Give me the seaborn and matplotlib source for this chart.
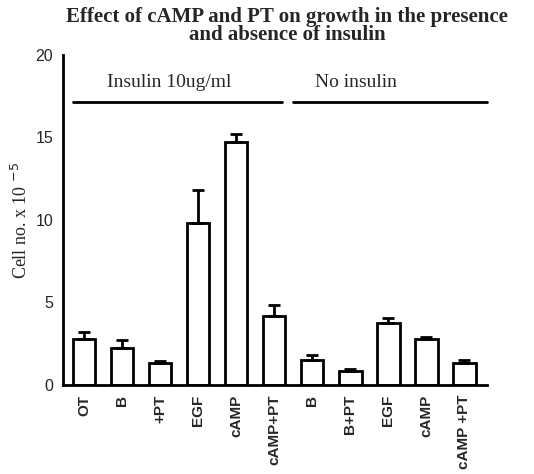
import numpy as np
import pandas as pd
import seaborn as sns
import matplotlib.pyplot as plt

# data
labels = ['OT', 'B', '+PT', 'EGF', 'cAMP', 'cAMP+PT',
          'B', 'B+PT', 'EGF', 'cAMP', 'cAMP +PT']
groups = ['ins'] * 6 + ['none'] * 5
cells = [2.8, 2.25, 1.3, 9.8, 14.7, 4.2, 1.5, 0.85, 3.75, 2.8, 1.35]
err = [0.4, 0.45, 0.15, 2.0, 0.5, 0.65, 0.3, 0.12, 0.3, 0.1, 0.15]

df = pd.DataFrame({'label': labels, 'group': groups, 'cells': cells, 'err': err})
df['key'] = [f'{g}|{i}' for i, g in enumerate(df['group'])]

sns.set_style('white')
plt.rcParams['font.family'] = ['Liberation Sans', 'DejaVu Sans']

fig = plt.figure(figsize=(5.34, 4.74), dpi=100)
ax = fig.add_axes([0.118, 0.188, 0.794, 0.696])

sns.barplot(data=df, x='key', y='cells', color='white', edgecolor='black',
            linewidth=2, width=0.6, ax=ax, errorbar=None)
pos = np.arange(len(df))
ax.errorbar(pos, df['cells'], yerr=[np.zeros(len(df)), df['err']], fmt='none',
            ecolor='black', elinewidth=2, capsize=4, capthick=2)

ax.set_xlim(-0.55, 10.6)
ax.set_ylim(0, 20)
ax.set_yticks([0, 5, 10, 15, 20])
ax.set_yticklabels(['0', '5', '10', '15', '20'], fontsize=11.5)
ax.set_xticks(pos)
ax.set_xticklabels(df['label'], rotation=90, fontsize=11, fontweight='bold')
ax.tick_params(axis='both', length=0, pad=7)
ax.set_xlabel('')
ax.set_ylabel('Cell no. x 10 $^{-5}$', family='Liberation Serif', fontsize=13, labelpad=3)

sns.despine(ax=ax)
for s in ['left', 'bottom']:
    ax.spines[s].set_linewidth(2)
    ax.spines[s].set_color('black')

# group brackets
ax.plot([-0.3, 5.2], [17.15, 17.15], color='black', lw=2, clip_on=False)
ax.plot([5.5, 10.6], [17.15, 17.15], color='black', lw=2, clip_on=False)
ax.text(2.25, 17.8, 'Insulin 10ug/ml', family='Liberation Serif', fontsize=14,
        ha='center', va='bottom')
ax.text(7.15, 17.8, 'No insulin', family='Liberation Serif', fontsize=14,
        ha='center', va='bottom')

fig.suptitle('Effect of cAMP and PT on growth in the presence\nand absence of insulin',
             x=0.538, y=0.985, family='Liberation Serif', fontweight='bold',
             fontsize=15, linespacing=0.85)

fig.savefig('out.png', dpi=100)
